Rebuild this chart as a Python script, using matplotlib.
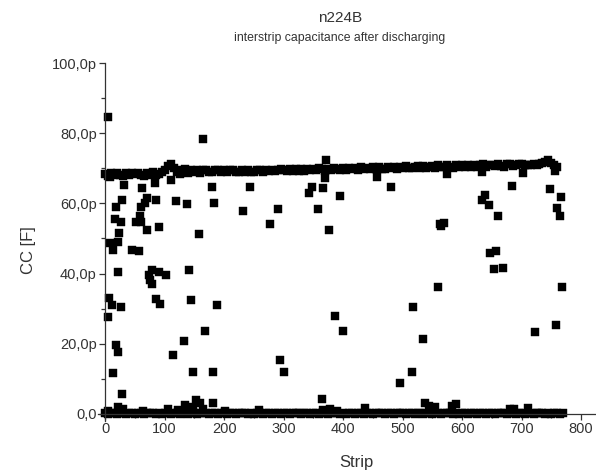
import matplotlib.pyplot as plt
import numpy as np
from matplotlib.ticker import FuncFormatter, MultipleLocator

# main band of strips around 68-71 pF (every 5th strip, strips 0..760)
band_strip = np.arange(0, 765, 5)
band_cc = [
    68.5, 67.9, 68.6, 68.0, 68.7, 68.1, 67.8, 68.6, 68.0, 68.7,
    68.3, 68.8, 68.0, 67.8, 68.8, 68.2, 69.0, 68.1, 68.4, 68.9,
    69.5, 70.6, 71.3, 70.2, 69.0, 68.5, 69.5, 69.7, 68.8, 69.5,
    68.9, 69.6, 68.8, 69.4, 69.6, 69.0, 68.9, 69.5, 69.4, 68.9,
    69.5, 68.9, 69.4, 69.6, 69.0, 68.9, 69.5, 69.0, 69.6, 69.0,
    68.9, 69.5, 69.5, 69.0, 69.6, 69.1, 69.6, 69.1, 69.5, 69.7,
    69.6, 69.2, 69.7, 69.2, 69.9, 69.3, 69.8, 69.2, 69.9, 69.4,
    69.9, 69.4, 70.0, 69.8, 69.3, 69.9, 69.4, 70.1, 69.8, 69.4,
    70.1, 69.6, 70.2, 69.7, 70.1, 69.6, 70.3, 69.8, 70.2, 69.7,
    70.3, 69.8, 70.4, 69.9, 69.8, 70.4, 70.0, 70.4, 69.9, 70.5,
    70.1, 70.6, 70.2, 70.0, 70.5, 70.7, 70.2, 70.6, 70.1, 70.5,
    70.7, 70.2, 70.8, 70.4, 70.3, 70.8, 70.4, 70.2, 70.8, 70.4,
    70.8, 70.3, 70.9, 70.5, 71.0, 70.4, 70.8, 71.1, 70.5, 70.9,
    71.0, 70.6, 71.1, 70.7, 70.5, 71.1, 71.2, 70.7, 71.0, 71.2,
    71.1, 70.8, 71.0, 70.9, 71.3, 70.8, 71.3, 71.4, 71.8, 72.3,
    71.4, 70.9, 70.5,
]

# shorted strips near 0 F (every 5th strip, 0..770)
zero_strip = np.arange(0, 775, 5)
zero_cc = [
    0.2, 0.1, 0.3, 0.2, 0.1, 0.2, 0.3, 0.1, 0.2, 0.2,
    0.1, 0.3, 0.2, 0.1, 0.2, 0.2, 0.3, 0.1, 0.2, 0.1,
    0.2, 0.3, 0.1, 0.2, 0.2, 0.1, 0.3, 0.2, 0.1, 0.2,
    0.2, 0.1, 0.3, 0.2, 0.2, 0.1, 0.2, 0.3, 0.1, 0.2,
    0.2, 0.1, 0.3, 0.2, 0.1, 0.2, 0.2, 0.3, 0.1, 0.2,
    0.1, 0.2, 0.3, 0.1, 0.2, 0.2, 0.1, 0.3, 0.2, 0.1,
    0.2, 0.2, 0.1, 0.3, 0.2, 0.2, 0.1, 0.2, 0.3, 0.1,
    0.2, 0.2, 0.1, 0.3, 0.2, 0.1, 0.2, 0.2, 0.3, 0.1,
    0.2, 0.1, 0.2, 0.3, 0.1, 0.2, 0.2, 0.1, 0.3, 0.2,
    0.1, 0.2, 0.2, 0.3, 0.1, 0.2, 0.2, 0.1, 0.3, 0.2,
    0.2, 0.1, 0.3, 0.2, 0.1, 0.2, 0.3, 0.1, 0.2, 0.2,
    0.1, 0.3, 0.2, 0.1, 0.2, 0.2, 0.3, 0.1, 0.2, 0.1,
    0.2, 0.3, 0.1, 0.2, 0.2, 0.1, 0.3, 0.2, 0.1, 0.2,
    0.2, 0.1, 0.3, 0.2, 0.2, 0.1, 0.2, 0.3, 0.1, 0.2,
    0.2, 0.1, 0.3, 0.2, 0.1, 0.2, 0.2, 0.3, 0.1, 0.2,
    0.1, 0.2, 0.3, 0.1, 0.2,
]

# scattered strips
out_strip = [
    4, 8, 31, 164, 179, 244, 62, 83, 111,
    29, 18, 71, 67, 60, 85, 119, 138, 183, 231, 277,
    17, 26, 52, 59, 61, 90, 70, 24, 157,
    9, 21, 13, 45, 57, 21, 78, 73, 90, 102, 76, 78, 141,
    6, 85, 144, 92, 11, 27, 188, 4, 168,
    132, 18, 22, 114, 14, 148, 182, 28, 182,
    153, 160, 148, 165, 22, 30, 63, 106, 123, 134, 202, 258, 4,
    371, 370, 457, 347, 342, 367, 395, 480, 290, 357, 377, 563,
    560, 517, 387, 399, 534, 294, 300, 515, 496, 364,
    367, 378, 390, 436, 538, 545, 550, 555,
    574, 633, 702, 756, 683, 747, 766, 639, 633, 646, 760, 764, 661, 569, 564,
    647, 657, 654, 669, 768, 757, 722, 583, 590, 681, 688, 710,
]
out_cc = [
    84.5, 67.6, 65.2, 78.3, 64.8, 64.8, 64.4, 65.7, 66.7,
    61.0, 59.0, 61.4, 60.0, 59.0, 61.0, 60.8, 59.8, 60.0, 57.9, 54.0,
    55.5, 54.8, 54.8, 56.4, 54.8, 53.2, 52.4, 51.7, 51.3,
    48.8, 49.1, 46.7, 46.7, 46.4, 40.5, 41.0, 39.6, 40.5, 39.6, 38.2, 37.0, 41.0,
    33.0, 32.7, 32.5, 31.3, 31.0, 30.4, 31.0, 27.7, 23.6,
    20.9, 19.7, 17.7, 16.8, 11.8, 12.1, 12.1, 5.6, 3.0,
    4.0, 3.1, 2.0, 1.5, 2.0, 1.4, 0.8, 1.3, 1.1, 2.6, 0.8, 1.0, 0.8,
    72.4, 67.1, 67.6, 64.6, 62.9, 64.3, 62.1, 64.6, 58.3, 58.3, 52.5, 54.0,
    36.3, 30.4, 28.0, 23.7, 21.4, 15.4, 12.1, 12.1, 8.9, 4.3,
    1.2, 1.5, 0.8, 1.8, 3.0, 2.2, 1.8, 2.0,
    68.4, 69.0, 68.7, 69.3, 65.0, 64.1, 61.7, 62.4, 61.0, 59.5, 58.6, 56.5, 56.4, 54.3, 53.6,
    46.0, 46.4, 41.3, 41.5, 36.3, 25.4, 23.5, 2.3, 2.8, 1.3, 1.3, 1.6,
]


def pico(v, pos):
    if v == 0:
        return "0,0"
    return ("%.1fp" % v).replace(".", ",")


def main():
    plt.rcParams['font.family'] = ['Liberation Sans', 'DejaVu Sans']
    fig = plt.figure(figsize=(5.96, 4.71), dpi=100)
    W, H = 596, 471
    ax = fig.add_axes([98 / W, 50 / H, (596 - 98) / W, (421 - 63) / H])

    kw = dict(linestyle='none', marker='s', ms=5.2, color='black', mec='black', mew=0.3)
    ax.plot(band_strip, band_cc, **kw)
    ax.plot(zero_strip, zero_cc, **kw)
    ax.plot(out_strip, out_cc, **kw)

    ax.set_xlim(-12, 825)
    ax.set_ylim(-2, 100)
    ax.spines['left'].set_position(('data', 0))
    ax.spines['bottom'].set_position(('data', 0))
    ax.spines['top'].set_visible(False)
    ax.spines['right'].set_visible(False)
    for s in ('left', 'bottom'):
        ax.spines[s].set_color('#333333')
        ax.spines[s].set_linewidth(0.9)

    ax.xaxis.set_major_locator(MultipleLocator(100))
    ax.xaxis.set_minor_locator(MultipleLocator(50))
    ax.yaxis.set_major_locator(MultipleLocator(20))
    ax.yaxis.set_minor_locator(MultipleLocator(10))
    ax.yaxis.set_major_formatter(FuncFormatter(pico))
    ax.tick_params(which='major', direction='out', length=4, width=0.9,
                   color='#333333', labelsize=10.5, labelcolor='#333333', pad=2)
    ax.tick_params(which='minor', direction='out', length=3, width=0.9, color='#333333')
    ax.set_xticks([0, 100, 200, 300, 400, 500, 600, 700, 800])

    fig.text(340 / W, 1 - 18 / H, "n224B", ha='center', va='center',
             fontsize=11, color='#333333')
    fig.text(340 / W, 1 - 38 / H, "interstrip capacitance after discharging",
             ha='center', va='center', fontsize=8.8, color='#333333')
    fig.text(356 / W, 1 - 463 / H, "Strip", ha='center', va='center',
             fontsize=12, color='#333333')
    fig.text(29 / W, 1 - 250 / H, "CC [F]", ha='center', va='center',
             rotation=90, fontsize=12, color='#333333')

    fig.savefig("out.png", dpi=100)


if __name__ == "__main__":
    main()
